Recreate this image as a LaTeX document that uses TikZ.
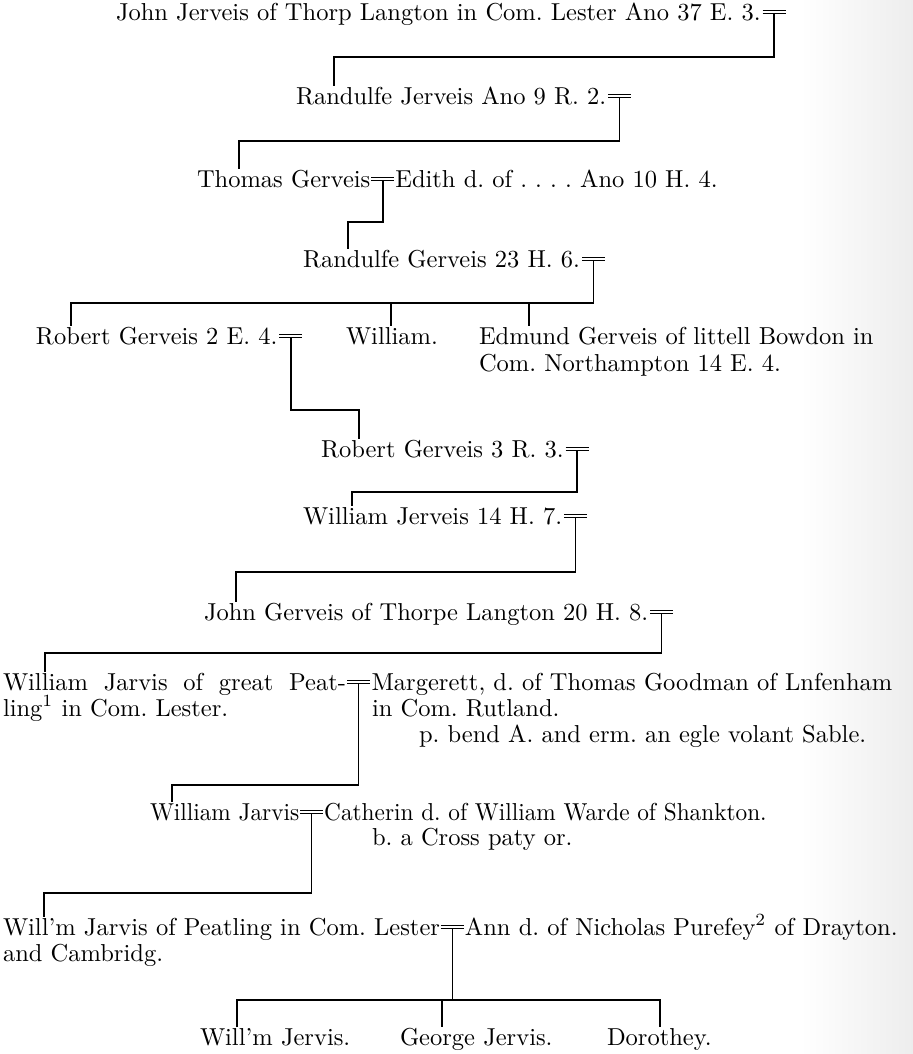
\documentclass[tikz,border=0pt]{standalone}
\begin{document}
\begin{tikzpicture}[x=0.4pt,y=-0.4pt,
  txt/.style={inner sep=0pt,outer sep=0pt,anchor=base west,font=\fontsize{9.8pt}{10.4pt}\selectfont\frenchspacing},
  marr/.style={inner sep=0pt,outer sep=0pt,anchor=west,minimum width=9.2pt,minimum height=1.1pt},
  bar/.style={line width=0.5pt},
  conn/.style={line width=0.6pt}]
\useasboundingbox (0,0) rectangle (913,1054);
\shade[left color=white,right color=black!7] (800,0) rectangle (913,1054);

% ---- text nodes ----
\node[txt] (t1) at (116,20) {John Jerveis of Thorp Langton in Com. Lester Ano 37 E. 3.};
\node[marr] (m1) at ([xshift=0.8pt,yshift=3.2pt]t1.base east) {};

\node[txt] (t2) at (296,104) {Randulfe Jerveis Ano 9 R. 2.};
\node[marr] (m2) at ([xshift=0.8pt,yshift=3.2pt]t2.base east) {};

\node[txt] (t3) at (197,187) {Thomas Gerveis};
\node[marr] (m3) at ([xshift=0.4pt,yshift=3.2pt]t3.base east) {};
\node[txt] (w3) at ([xshift=0.4pt]m3.east |- t3.base) {Edith d. of . . . . Ano 10 H. 4.};

\node[txt] (t4) at (303,267) {Randulfe Gerveis 23 H. 6.};
\node[marr] (m4) at ([xshift=0.8pt,yshift=3.2pt]t4.base east) {};

\node[txt] (t5a) at (36,344) {Robert Gerveis 2 E. 4.};
\node[marr] (m5) at ([xshift=0.8pt,yshift=3.2pt]t5a.base east) {};
\node[txt] (t5b) at (346,344) {William.};
\node[txt] (t5c) at (479,344) {Edmund Gerveis of littell Bowdon in};
\node[txt] (t5d) at (479,371) {Com. Northampton 14 E. 4.};

\node[txt] (t6) at (321,457) {Robert Gerveis 3 R. 3.};
\node[marr] (m6) at ([xshift=0.8pt,yshift=3.2pt]t6.base east) {};

\node[txt] (t7) at (303,524) {William Jerveis 14 H. 7.};
\node[marr] (m7) at ([xshift=0.8pt,yshift=3.2pt]t7.base east) {};

\node[txt] (t8) at (204,620) {John Gerveis of Thorpe Langton 20 H. 8.};
\node[marr] (m8) at ([xshift=0.8pt,yshift=3.2pt]t8.base east) {};

\node[txt] (t9) at (3,690) {\makebox[137.2pt][s]{William Jarvis of great Peat-}};
\node[txt] (t9b) at (3,716) {ling\textsuperscript{1} in Com. Lester.};
\node[marr] (m9) at ([xshift=0.4pt,yshift=3.2pt]t9.base east) {};
\node[txt] (w9) at ([xshift=0.6pt]m9.east |- t9.base) {Margerett, d. of Thomas Goodman of Lnfenham};
\node[txt] (w9b) at (372,716) {in Com. Rutland.};
\node[txt] (w9c) at (419,742) {p. bend A. and erm. an egle volant Sable.};

\node[txt] (t10) at (150,820) {\scalebox{0.95}[1]{William Jarvis}};
\node[marr] (m10) at ([xshift=0.4pt,yshift=3.2pt]t10.base east) {};
\node[txt] (w10) at ([xshift=0.4pt]m10.east |- t10.base) {\scalebox{0.95}[1]{Catherin d. of William Warde of Shankton.}};
\node[txt] (w10b) at (372,845) {b. a Cross paty or.};

\node[txt] (t11) at (3,935) {Will'm Jarvis of Peatling in Com. Lester};
\node[marr] (m11) at ([xshift=0.4pt,yshift=3.2pt]t11.base east) {};
\node[txt] (w11) at ([xshift=0.4pt]m11.east |- t11.base) {Ann d. of Nicholas Purefey\textsuperscript{2} of Drayton.};
\node[txt] (t11b) at (3,961) {and Cambridg.};

\node[txt] (t12a) at (200,1045) {Will'm Jervis.};
\node[txt] (t12b) at (400,1045) {George Jervis.};
\node[txt] (t12c) at (607,1045) {Dorothey.};

% ---- marriage signs ----
\foreach \m in {m1,m2,m3,m4,m5,m6,m7,m8,m9,m10,m11}
  \draw[bar] (\m.north west) -- (\m.north east) (\m.south west) -- (\m.south east);

% ---- junction and child points ----
\coordinate (j1) at (334,57);   \coordinate (c2) at (334,86);
\coordinate (j2) at (239,141);  \coordinate (c3) at (239,169);
\coordinate (j3) at (348,222);  \coordinate (c4) at (348,249);
\coordinate (j4a) at (71,303);  \coordinate (c5a) at (71,326);
\coordinate (j4b) at (391,303); \coordinate (c5b) at (391,326);
\coordinate (j4c) at (529,303); \coordinate (c5c) at (529,326);
\coordinate (j5) at (359,410);  \coordinate (c6) at (359,439);
\coordinate (j6) at (352,492);  \coordinate (c7) at (352,506);
\coordinate (j7) at (236,572);  \coordinate (c8) at (236,602);
\coordinate (j8) at (45,653);   \coordinate (c9) at (45,672);
\coordinate (j9) at (172,785);  \coordinate (c10) at (172,802);
\coordinate (j10) at (44,893);  \coordinate (c11) at (44,917);
\coordinate (j11a) at (237,1000); \coordinate (c12a) at (237,1027);
\coordinate (j11b) at (442,1000); \coordinate (c12b) at (442,1027);
\coordinate (j11c) at (660,1000); \coordinate (c12c) at (660,1027);

% ---- connectors ----
\draw[conn] (m1.south) |- (j1) -- (c2);
\draw[conn] (m2.south) |- (j2) -- (c3);
\draw[conn] (m3.south) |- (j3) -- (c4);
\draw[conn] (m4.south) |- (j4a) -- (c5a);
\draw[conn] (j4b) -- (c5b);
\draw[conn] (j4c) -- (c5c);
\draw[conn] (m5.south) |- (j5) -- (c6);
\draw[conn] (m6.south) |- (j6) -- (c7);
\draw[conn] (m7.south) |- (j7) -- (c8);
\draw[conn] (m8.south) |- (j8) -- (c9);
\draw[conn] (m9.south) |- (j9) -- (c10);
\draw[conn] (m10.south) |- (j10) -- (c11);
\draw[conn] (m11.south) -- (m11.south |- j11b);
\draw[conn] (c12a) -- (j11a) -- (j11c) -- (c12c);
\draw[conn] (j11b) -- (c12b);
\end{tikzpicture}
\end{document}
